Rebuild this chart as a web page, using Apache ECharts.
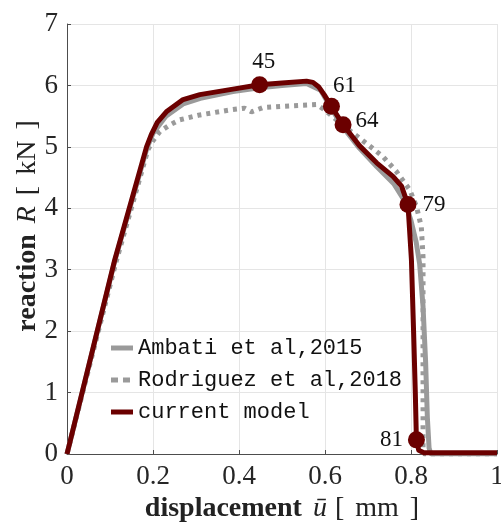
<!DOCTYPE html>
<html>
<head>
<meta charset="utf-8">
<script src="https://cdn.jsdelivr.net/npm/echarts@6/dist/echarts.min.js"></script>
<style>
  html, body { margin: 0; padding: 0; background: #fff; overflow: hidden; }
  #chart { width: 501px; height: 528px; }
</style>
</head>
<body>
<div id="chart"></div>
<script>
// Reaction force vs. prescribed displacement for three phase-field models
const ambatiX = [0, 0.111, 0.186, 0.2, 0.23, 0.27, 0.31, 0.386, 0.448, 0.5, 0.557, 0.59, 0.615, 0.642, 0.68, 0.72, 0.76, 0.785, 0.8, 0.812, 0.82, 0.828, 0.834, 0.838, 0.842, 0.846, 1];
const ambatiY = [0, 3.14, 4.98, 5.22, 5.5, 5.7, 5.79, 5.9, 5.96, 6.0, 6.03, 5.92, 5.62, 5.32, 4.98, 4.68, 4.4, 4.12, 3.8, 3.45, 3.1, 2.4, 1.5, 0.6, 0.1, 0, 0];

const rodriguezX = [0, 0.113, 0.188, 0.2, 0.216, 0.24, 0.262, 0.309, 0.378, 0.413, 0.429, 0.456, 0.5, 0.58, 0.6, 0.64, 0.681, 0.735, 0.766, 0.797, 0.8126, 0.824, 0.828, 0.828, 0.828, 0.83, 1];
const rodriguezY = [0, 3.1, 4.95, 5.1, 5.25, 5.36, 5.44, 5.52, 5.6, 5.63, 5.57, 5.64, 5.66, 5.69, 5.6, 5.36, 5.14, 4.84, 4.6, 4.3, 4.03, 3.7, 3.2, 1.0, 0.1, 0, 0];

const currentX = [0, 0.111, 0.185, 0.196, 0.21, 0.231, 0.27, 0.309, 0.386, 0.448, 0.5, 0.557, 0.572, 0.585, 0.598, 0.615, 0.642, 0.68, 0.72, 0.758, 0.778, 0.793, 0.801, 0.806, 0.81, 0.8126, 0.818, 0.83, 1];
const currentY = [0, 3.16, 5.0, 5.2, 5.4, 5.57, 5.77, 5.85, 5.94, 6.01, 6.04, 6.07, 6.05, 5.98, 5.85, 5.66, 5.36, 5.02, 4.74, 4.52, 4.36, 4.06, 3.16, 2.0, 1.0, 0.23, 0.06, 0.02, 0.02];

// load steps highlighted on the current model
const stepLabels = ['45', '61', '64', '79', '81'];
const stepX = [0.448, 0.615, 0.642, 0.793, 0.8126];
const stepY = [6.01, 5.66, 5.36, 4.06, 0.23];

const xTicks = [0, 0.2, 0.4, 0.6, 0.8, 1];
const yTicks = [0, 1, 2, 3, 4, 5, 6, 7];

const zip = (xs, ys) => xs.map((x, i) => [x, ys[i]]);

const SERIF = '"Liberation Serif", "DejaVu Serif", serif';
const MONO = '"Liberation Mono", "DejaVu Sans Mono", monospace';
const RED = '#6b0000';
const GRAY = '#9a9a9a';
const AXIS = '#4d4d4d';
const TEXT = '#222222';
const NAME_SIZE = 28;

// rich-text pieces for the LaTeX-like axis titles
const nameRich = (fillKey) => ({
  b: { fontFamily: SERIF, fontSize: NAME_SIZE, fontWeight: 'bold', [fillKey]: TEXT },
  i: { fontFamily: SERIF, fontSize: NAME_SIZE, fontStyle: 'italic', [fillKey]: TEXT },
  r: { fontFamily: SERIF, fontSize: NAME_SIZE, [fillKey]: TEXT },
  s: { width: 11 },
  t: { width: 8 }
});

const labelPlacement = {
  '45': { position: 'top', distance: 3, offset: [4, 0] },
  '61': { position: 'right', distance: 2, offset: [-9, -20] },
  '64': { position: 'right', distance: 4, offset: [0, -4] },
  '79': { position: 'right', distance: 5, offset: [1, 0] },
  '81': { position: 'left', distance: 5, offset: [0, 0] }
};

const chart = echarts.init(document.getElementById('chart'), null, { renderer: 'canvas' });

chart.setOption({
  animation: false,
  backgroundColor: '#ffffff',
  grid: { left: 67, right: 4, top: 24, bottom: 74, containLabel: false, outerBoundsMode: 'none' },
  xAxis: {
    type: 'value',
    min: xTicks[0], max: xTicks[xTicks.length - 1], interval: 0.2,
    name: '{b|displacement}{s|}{i|ū}{t|}{r|[}{s|}{r|mm}{s|}{r|]}',
    nameLocation: 'middle',
    nameGap: 38,
    nameTextStyle: { fontFamily: SERIF, fontSize: NAME_SIZE, color: TEXT, rich: nameRich('color') },
    axisLine: { show: true, lineStyle: { color: AXIS, width: 1 } },
    axisTick: { show: true, inside: true, length: 4, lineStyle: { color: AXIS } },
    axisLabel: {
      fontFamily: SERIF, fontSize: 27, color: '#262626', margin: 9,
      showMaxLabel: true, showMinLabel: true,
      formatter: v => String(Math.round(v * 10) / 10)
    },
    splitLine: { show: true, lineStyle: { color: '#e5e5e5', width: 1 } }
  },
  yAxis: {
    type: 'value',
    min: yTicks[0], max: yTicks[yTicks.length - 1], interval: 1,
    axisLine: { show: true, lineStyle: { color: AXIS, width: 1 } },
    axisTick: { show: true, inside: true, length: 4, lineStyle: { color: AXIS } },
    axisLabel: { fontFamily: SERIF, fontSize: 27, color: '#262626', margin: 9 },
    splitLine: { show: true, lineStyle: { color: '#e5e5e5', width: 1 } }
  },
  legend: {
    orient: 'vertical',
    left: 111, top: 337, padding: 0,
    itemWidth: 22, itemHeight: 5, itemGap: 10,
    textStyle: { fontFamily: MONO, fontSize: 22, color: '#111', lineHeight: 22 },
    data: [
      { name: 'Ambati et al,2015', icon: 'rect' },
      { name: 'Rodriguez et al,2018', icon: 'path://M0,0h7v5h-7z M12,0h7v5h-7z M22,0h0.01v5h-0.01z' },
      { name: 'current model', icon: 'rect' }
    ]
  },
  graphic: [{
    type: 'text',
    x: 28, y: 226,
    rotation: Math.PI / 2,
    style: {
      text: '{b|reaction}{s|}{i|R}{s|}{r|[}{s|}{r|kN}{s|}{r|]}',
      fontFamily: SERIF, fontSize: NAME_SIZE, fill: TEXT,
      align: 'center', verticalAlign: 'middle',
      rich: nameRich('fill')
    }
  }],
  series: [
    {
      name: 'Ambati et al,2015',
      type: 'line',
      data: zip(ambatiX, ambatiY),
      showSymbol: false, symbol: 'none',
      lineStyle: { color: GRAY, width: 5, cap: 'butt' },
      itemStyle: { color: GRAY },
      z: 2
    },
    {
      name: 'Rodriguez et al,2018',
      type: 'line',
      data: zip(rodriguezX, rodriguezY),
      showSymbol: false, symbol: 'none',
      lineStyle: { color: GRAY, width: 5, type: [4, 5], cap: 'butt' },
      itemStyle: { color: GRAY },
      z: 3
    },
    {
      name: 'current model',
      type: 'line',
      data: zip(currentX, currentY),
      showSymbol: false, symbol: 'none',
      lineStyle: { color: RED, width: 5, join: 'round' },
      itemStyle: { color: RED },
      z: 4
    },
    {
      name: 'steps',
      type: 'scatter',
      data: stepLabels.map((s, i) => ({
        value: [stepX[i], stepY[i]],
        name: s,
        label: Object.assign({ show: true }, labelPlacement[s])
      })),
      symbol: 'circle',
      symbolSize: 17,
      itemStyle: { color: RED, opacity: 1 },
      label: {
        show: true,
        formatter: p => p.name,
        fontFamily: SERIF, fontSize: 23, color: '#111'
      },
      z: 5
    }
  ]
});
</script>
</body>
</html>
